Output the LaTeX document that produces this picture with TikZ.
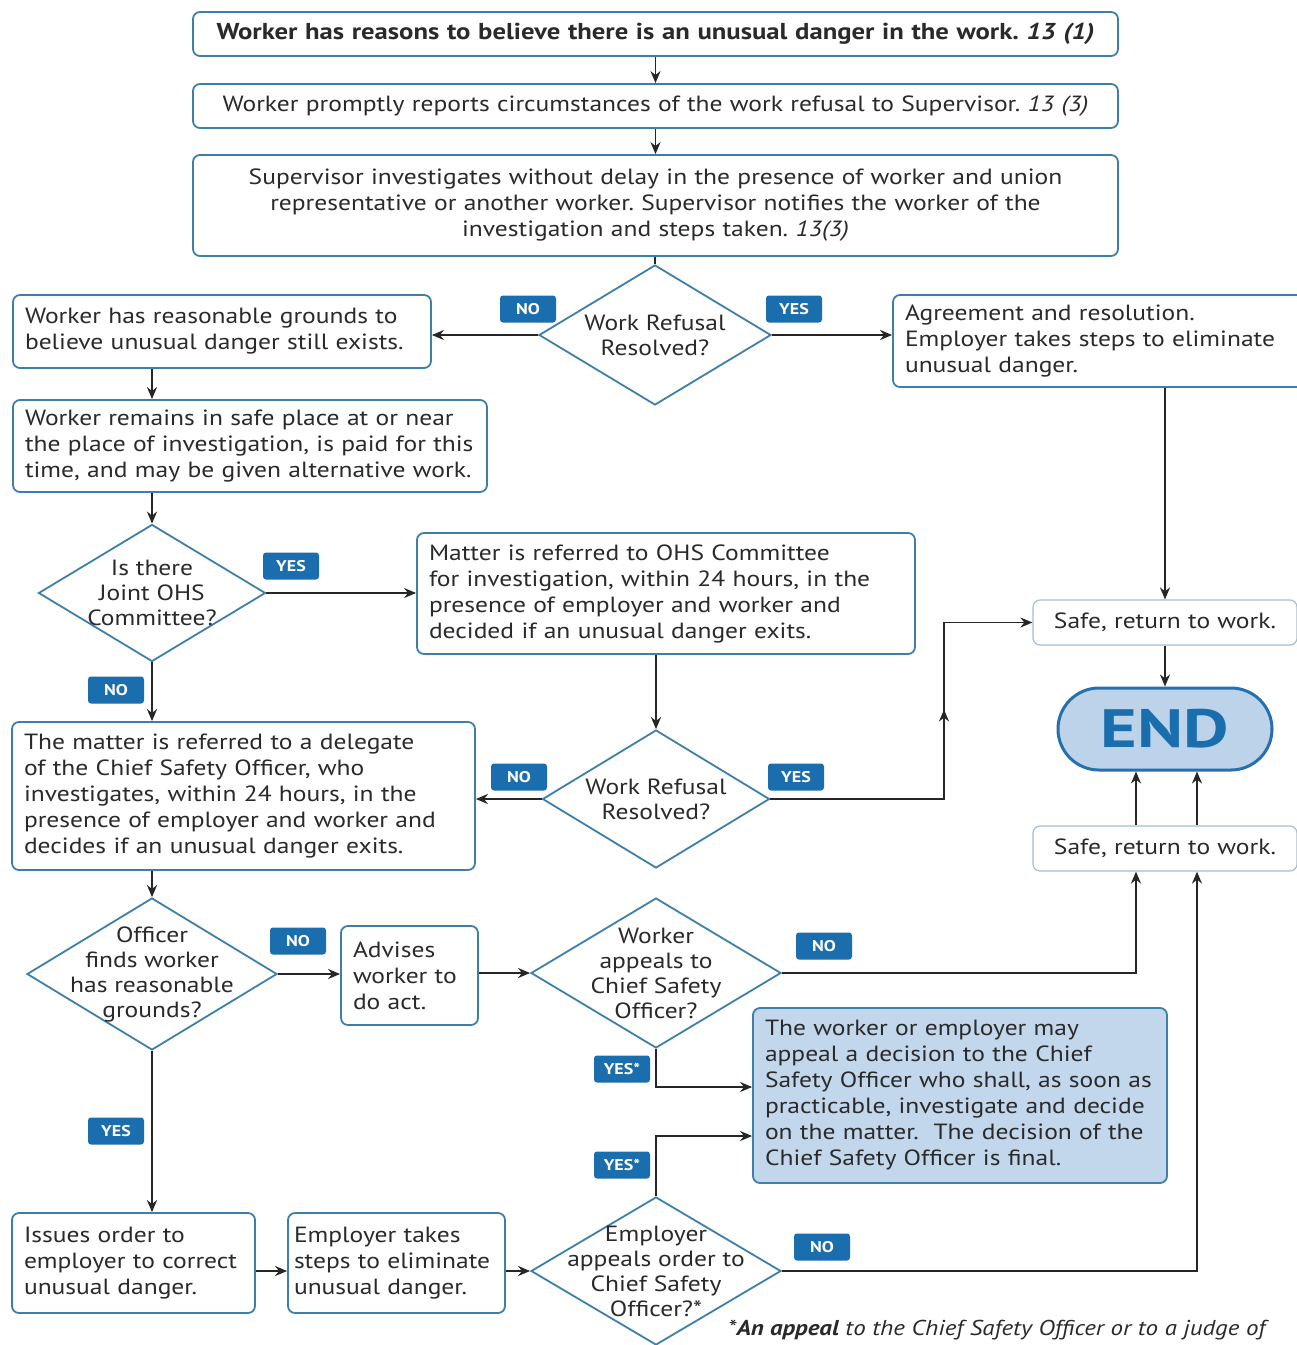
\documentclass[tikz,border=0pt]{standalone}
\usepackage{fontspec}
\setmainfont[FakeStretch=1.16]{PT Sans}
\newfontfamily\endfont[FakeStretch=1.3]{PT Sans}
\usetikzlibrary{arrows.meta,shapes.geometric,decorations.markings}
\definecolor{bc}{HTML}{3E7FA8}
\definecolor{badge}{HTML}{1B6EAE}
\definecolor{txt}{HTML}{2A2A2A}
\definecolor{endfill}{HTML}{BCD3EA}
\definecolor{endline}{HTML}{2770AD}
\definecolor{appfill}{HTML}{C3D7EC}
\definecolor{safeline}{HTML}{A7C0D0}
\frenchspacing
\begin{document}
\begin{tikzpicture}[x=1pt,y=-1pt,
 box/.style={draw=bc,line width=1.8pt,rounded corners=7pt,fill=white,text=txt,inner xsep=12pt,inner ysep=0pt,font=\fontsize{22}{26}\selectfont},
 lbox/.style={box,align=left},
 cbox/.style={box,align=center},
 safebox/.style={box,draw=safeline,line width=1.2pt,align=center},
 dia/.style={draw=bc,line width=1.8pt,shape=diamond,inner sep=0pt,fill=white},
 dlab/.style={align=center,text=txt,font=\fontsize{22}{25}\selectfont},
 badgestyle/.style={fill=badge,rounded corners=3pt,text=white,font=\bfseries\fontsize{15.5}{15.5}\selectfont,minimum width=56pt,minimum height=27pt,inner sep=0pt},
 arr/.style={-{Stealth[length=12pt,width=10pt]},line width=1.8pt,black!85},
 ln/.style={line width=1.8pt,black!85},
 midarr/.style={postaction={decorate},decoration={markings,mark=at position #1 with {\arrow{Stealth[length=12pt,width=10pt]}}}},
]
\useasboundingbox (0,0) rectangle (1297,1345);
\fill[white] (0,0) rectangle (1297,1345);

% top boxes
\node[cbox,text width=901pt,minimum height=44pt,font=\fontsize{23}{26}\selectfont] (B1) at (655.5,34) {\textbf{Worker has reasons to believe there is an unusual danger in the work. \textit{13 (1)}}};
\node[cbox,text width=901pt,minimum height=44pt] (B2) at (655.5,106) {Worker promptly reports circumstances of the work refusal to Supervisor. \textit{13 (3)}};
\node[cbox,text width=901pt,minimum height=101pt] (B3) at (655.5,205.5) {Supervisor investigates without delay in the presence of worker and union\\representative or another worker. Supervisor notifies the worker of the\\investigation and steps taken. \textit{13(3)}};

% diamonds
\node[dia,minimum width=232pt,minimum height=140pt,label={[dlab]center:{Work Refusal\\Resolved?}}] (D1) at (655,335) {};
\node[dia,minimum width=227pt,minimum height=137pt,label={[dlab]center:{Is there\\Joint OHS\\Committee?}}] (D2) at (152,593) {};
\node[dia,minimum width=227pt,minimum height=138pt,label={[dlab]center:{Work Refusal\\Resolved?}}] (D3) at (656,799) {};
\node[dia,minimum width=250pt,minimum height=152pt,label={[dlab]center:{Officer\\finds worker\\has reasonable\\grounds?}}] (D4) at (152,974) {};
\node[dia,minimum width=250pt,minimum height=150pt,label={[dlab]center:{Worker\\appeals to\\Chief Safety\\Officer?}}] (D5) at (656,973) {};
\node[dia,minimum width=250pt,minimum height=148pt,label={[dlab]center:{Employer\\appeals order to\\Chief Safety\\Officer?*}}] (D6) at (656,1271) {};

% process boxes
\node[lbox,text width=394pt,minimum height=73pt] (W1) at (222,331.5) {Worker has reasonable grounds to\\believe unusual danger still exists.};
\node[lbox,text width=388pt,minimum height=92pt] (A) at (1099,341) {Agreement and resolution.\\Employer takes steps to eliminate\\unusual danger.};
\node[lbox,text width=450pt,minimum height=92pt] (W2) at (250,446) {Worker remains in safe place at or near\\the place of investigation, is paid for this\\time, and may be given alternative work.};
\node[lbox,text width=474pt,minimum height=121pt] (M) at (666,593.5) {Matter is referred to OHS Committee\\for investigation, within 24 hours, in the\\presence of employer and worker and\\decided if an unusual danger exits.};
\node[lbox,text width=439pt,minimum height=148pt] (C) at (243.5,796) {The matter is referred to a delegate\\of the Chief Safety Officer, who\\investigates, within 24 hours, in the\\presence of employer and worker and\\decides if an unusual danger exits.};
\node[lbox,text width=113pt,minimum height=99pt] (Adv) at (409.5,975.5) {Advises\\worker to\\do act.};
\node[lbox,fill=appfill,text width=390pt,minimum height=175pt] (Ap) at (960,1095.5) {The worker or employer may\\appeal a decision to the Chief\\Safety Officer who shall, as soon as\\practicable, investigate and decide\\on the matter.\ \ The decision of the\\Chief Safety Officer is final.};
\node[lbox,text width=219pt,minimum height=100pt] (Is) at (133.5,1263) {Issues order to\\employer to correct\\unusual danger.};
\node[lbox,inner xsep=6pt,text width=205pt,minimum height=100pt] (Em) at (396.5,1263) {Employer takes\\steps to eliminate\\unusual danger.};
\node[safebox,text width=240pt,minimum height=45pt] (S1) at (1165,622.5) {Safe, return to work.};
\node[safebox,text width=240pt,minimum height=45pt] (S2) at (1165,848.5) {Safe, return to work.};
\node[draw=endline,line width=3pt,fill=endfill,rounded corners=41pt,minimum width=214pt,minimum height=82pt,text=badge,font=\endfont\bfseries\fontsize{54}{54}\selectfont,inner sep=0pt] (E) at (1165,729) {END};

% badges
\node[badgestyle] (n1) at (528,309) {NO};
\node[badgestyle] (y1) at (794,309) {YES};
\node[badgestyle] (y2) at (291,566) {YES};
\node[badgestyle] (n2) at (116,690) {NO};
\node[badgestyle] (n3) at (519,777) {NO};
\node[badgestyle] (y3) at (796,777) {YES};
\node[badgestyle] (n4) at (298,941) {NO};
\node[badgestyle] (n5) at (824,946) {NO};
\node[badgestyle] (ys1) at (622,1069) {YES*};
\node[badgestyle] (ys2) at (622,1165) {YES*};
\node[badgestyle] (y4) at (116,1131) {YES};
\node[badgestyle] (n6) at (822,1247) {NO};

% footnote
\node[anchor=west,inner sep=0pt,text=txt,font=\itshape\fontsize{21.5}{24}\selectfont] (fn) at (728,1330) {*\textbf{An appeal} to the Chief Safety Officer or to a judge of};

% connectors
\draw[arr] (B1) -- (B2);
\draw[arr] (B2) -- (B3);
\draw[ln] (B3.south -| D1) -- (D1.north);
\draw[arr] (D1.west) -- (D1.west -| W1.east);
\draw[arr] (D1.east) -- (D1.east -| A.west);
\draw[arr] (A.south -| S1.north) -- (S1.north);
\draw[arr] (S1) -- (E);
\draw[arr] ([xshift=-29pt]S2.north) -- ([xshift=-29pt]S2.north |- E.south);
\draw[arr] ([xshift=32pt]S2.north) -- ([xshift=32pt]S2.north |- E.south);
\draw[arr] (W1.south -| D2) -- (W2.north -| D2);
\draw[arr] (W2.south -| D2) -- (D2.north);
\draw[arr] (D2.east) -- (D2.east -| M.west);
\draw[arr] (D2.south) -- (C.north -| D2);
\draw[arr] (M.south -| D3) -- (D3.north);
\draw[arr] (D3.west) -- (D3.west -| C.east);
\coordinate (j1) at (944,799);
\draw[arr,midarr=0.6] (D3.east) -- (j1) |- (S1.west);
\draw[arr] (C.south -| D4) -- (D4.north);
\draw[arr] (D4.east) -- (D4.east -| Adv.west);
\draw[arr] (Adv.east |- D5) -- (D5.west);
\draw[arr] (D5.east) -| ([xshift=-29pt]S2.south);
\draw[arr] (D5.south) |- ([yshift=8.5pt]Ap.west);
\draw[arr] (D4.south) -- (Is.north -| D4);
\draw[arr] (Is.east |- D6) -- (Em.west |- D6);
\draw[arr] (Em.east |- D6) -- (D6.west);
\draw[arr] (D6.north) |- ([yshift=-40.5pt]Ap.west);
\draw[arr] (D6.east) -| ([xshift=32pt]S2.south);
\end{tikzpicture}
\end{document}
